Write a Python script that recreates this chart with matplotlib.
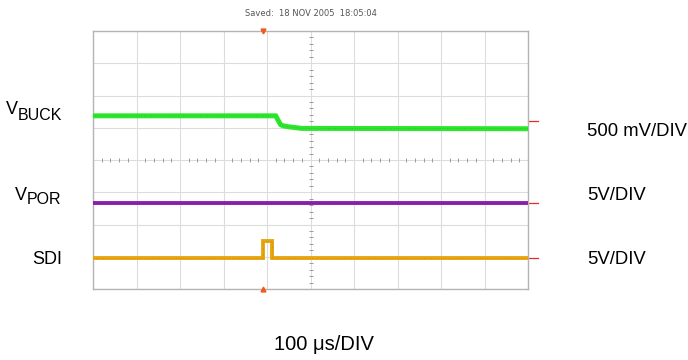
"""
Scope capture: VBUCK / VPOR / SDI traces, 10 x 8 division graticule.
"""
import numpy as np
import matplotlib
matplotlib.use("Agg")
import matplotlib.pyplot as plt

plt.rcParams["font.family"] = ["Liberation Sans", "DejaVu Sans"]

# --- Trace data (time in divisions, level in divisions from bottom) ---
vbuck_t = [0.0, 4.20, 4.31, 4.37, 4.50, 4.80, 10.0]
vbuck_v = [5.37, 5.37, 5.10, 5.06, 5.03, 4.98, 4.97]

vpor_t = [0.0, 10.0]
vpor_v = [2.67, 2.67]

sdi_t = [0.0, 3.91, 3.91, 4.12, 4.12, 10.0]
sdi_v = [0.96, 0.96, 1.49, 1.49, 0.96, 0.96]

# reference level markers on the right edge
ref_levels = [5.2, 2.67, 0.96]
trigger_t = 3.91

scale_labels = ["500 mV/DIV", "5V/DIV", "5V/DIV"]
time_label = "100 \u03bcs/DIV"
saved_label = "Saved:  18 NOV 2005  18:05:04"

COLORS = {
    "vbuck": "#2de62d",
    "vpor":  "#8c1fae",
    "sdi":   "#e9a612",
}

fig = plt.figure(figsize=(6.88, 3.6), dpi=100)
ax = fig.add_axes([93 / 688, 71 / 360, 435 / 688, 258 / 360])
ax.set_xlim(0, 10)
ax.set_ylim(0, 8)

# graticule
ax.set_xticks(range(11))
ax.set_yticks(range(9))
ax.tick_params(length=0, labelbottom=False, labelleft=False)
ax.grid(True, color="#dcdcdc", linewidth=0.8)
for sp in ax.spines.values():
    sp.set_color("#b4b4b4")
    sp.set_linewidth(1.0)

# minor ticks on centre lines
sub = np.array([k / 5 for k in range(51) if k % 5 != 0])
ax.plot(sub, np.full(sub.size, 4.0), ls="none", marker="|", ms=3.5,
        mew=0.7, color="#9a9a9a")
suby = sub[sub < 8]
ax.plot(np.full(suby.size, 5.0), suby, ls="none", marker="_", ms=3.5,
        mew=0.7, color="#9a9a9a")

# traces
for t, v, c, lw in [
    (vbuck_t, vbuck_v, COLORS["vbuck"], 3.6),
    (vpor_t, vpor_v, COLORS["vpor"], 2.8),
    (sdi_t, sdi_v, COLORS["sdi"], 2.8),
]:
    ax.plot(t, v, color=c, lw=lw, solid_joinstyle="miter", zorder=3)
    ax.plot(t, v, color="black", lw=0.5, alpha=0.25, ls=(0, (1, 2.5)), zorder=4)

# right-hand reference markers
for lv in ref_levels:
    ax.plot([10.0, 10.23], [lv, lv], color="#e8282a", lw=0.9, clip_on=False)

# trigger position markers
ax.plot([trigger_t], [8.0], marker="v", ms=3.5, color="#f05a1e", clip_on=False, zorder=5)
ax.plot([trigger_t], [0.0], marker="^", ms=3.5, color="#f05a1e", clip_on=False, zorder=5)

# labels (figure pixel coords)
W, H = 688, 360
def px(x, y):
    return x / W, 1 - y / H

fig.text(*px(311, 13), saved_label, fontsize=6, color="#555555",
         family="DejaVu Sans", ha="center", va="center")

fig.text(*px(18, 109), "V", fontsize=13, ha="right", va="center")
fig.text(*px(18, 115), "BUCK", fontsize=11.5, ha="left", va="center")
fig.text(*px(27, 195), "V", fontsize=13, ha="right", va="center")
fig.text(*px(27, 200), "POR", fontsize=11.5, ha="left", va="center")
fig.text(*px(62, 259), "SDI", fontsize=13, ha="right", va="center")

for lab, y in zip(scale_labels, [131, 196, 259]):
    fig.text(*px(587, y), lab, fontsize=13.3, ha="left", va="center")

fig.text(*px(324, 344), time_label, fontsize=14.5, ha="center", va="center")

fig.savefig("out.png", dpi=100)
